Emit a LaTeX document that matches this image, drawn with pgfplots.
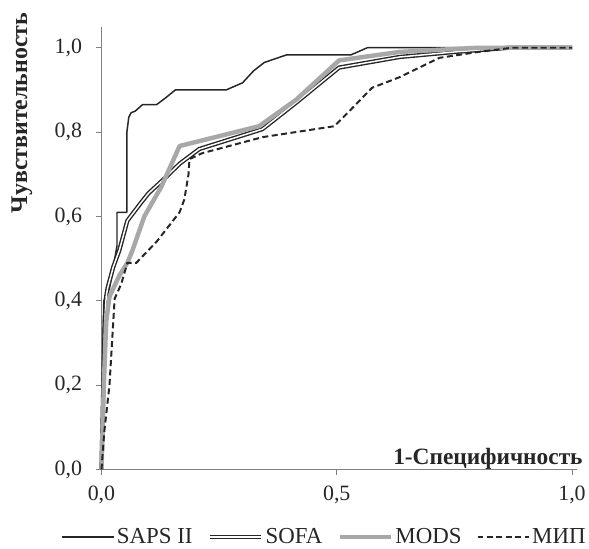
\documentclass[border=0pt]{standalone}
\usepackage{pgfplots}
\pgfplotsset{compat=1.18}
\usepackage{fontspec}
\setmainfont{Liberation Serif}

\definecolor{axisgray}{RGB}{128,128,128}
\definecolor{modsgray}{RGB}{168,168,168}

\begin{document}
\begin{tikzpicture}
\begin{axis}[
  scale only axis,
  width=477.7pt, height=445.2pt,
  xmin=0, xmax=1.01, ymin=0, ymax=1.05,
  axis x line*=bottom, axis y line*=left,
  axis line style={axisgray, line width=0.8pt},
  xtick={0,0.5,1.0}, ytick={0,0.2,0.4,0.6,0.8,1.0},
  tick align=outside, major tick length=5pt,
  tick style={axisgray, line width=0.8pt},
  /pgf/number format/.cd, fixed, fixed zerofill, precision=1, use comma,
  assume math mode=true,
  /pgfplots/.cd,
  tick label style={font=\fontsize{22}{26}\selectfont, text=black!85},
  yticklabel style={xshift=-11pt},
  xticklabel style={yshift=-8pt},
  legend columns=4,
  legend style={draw=none, fill=none, at={(-0.084,-0.152)}, anchor=west,
    font=\fontsize{23}{26}\selectfont, text=black!85,
    /tikz/every even column/.append style={column sep=13pt},
    /tikz/every odd column/.append style={column sep=0pt},
    nodes={inner xsep=2pt, inner ysep=0pt},
    inner sep=0pt},
  legend image code/.code={\draw[#1] (0pt,0pt) -- (52pt,0pt);},
  clip=false,
]
% SAPS II
\addplot[black!85, line width=1.5pt, line join=round] coordinates {
(0,0)(0.003,0.30)(0.005,0.40)(0.017,0.43)(0.025,0.48)(0.033,0.53)
(0.033,0.61)(0.054,0.61)(0.054,0.80)(0.058,0.835)(0.063,0.846)(0.072,0.85)
(0.087,0.865)(0.117,0.865)(0.135,0.88)(0.157,0.90)(0.265,0.90)(0.30,0.917)
(0.323,0.945)(0.346,0.965)(0.393,0.983)(0.53,0.983)(0.565,1.0)(1.0,1.0)};
\addlegendentry{SAPS II}
% SOFA
\addplot[black!85, line width=1.4pt, double=white, double distance=1.5pt, line join=round] coordinates {
(0,0)(0.004,0.2)(0.007,0.35)(0.010,0.41)(0.013,0.43)(0.025,0.48)(0.038,0.52)
(0.055,0.59)(0.085,0.634)(0.10,0.655)(0.134,0.69)(0.166,0.725)(0.208,0.76)
(0.342,0.807)(0.414,0.87)(0.505,0.953)(0.633,0.978)(0.75,0.99)(0.866,1.0)(1,1)};
\addlegendentry{SOFA}
% MODS
\addplot[modsgray, line width=4.5pt, line join=round] coordinates {
(0,0)(0.005,0.2)(0.01,0.35)(0.017,0.41)(0.038,0.46)(0.055,0.49)(0.066,0.52)
(0.091,0.60)(0.127,0.67)(0.166,0.767)(0.335,0.814)(0.414,0.877)(0.505,0.97)
(0.633,0.99)(0.8,1.0)(1,1)};
\addlegendentry{MODS}
% МИП
\addplot[black!85, line width=2pt, dash pattern=on 6pt off 3.5pt] coordinates {
(0,0)(0.006,0.09)(0.017,0.2)(0.028,0.405)(0.042,0.44)(0.055,0.49)(0.074,0.49)
(0.117,0.54)(0.166,0.61)(0.176,0.64)(0.185,0.70)(0.187,0.736)(0.214,0.75)
(0.342,0.788)(0.495,0.814)(0.527,0.85)(0.575,0.905)(0.633,0.93)(0.718,0.976)
(0.80,0.99)(0.873,1.0)(1,1)};
\addlegendentry{МИП}

\node[anchor=base east, font=\bfseries\fontsize{23.5}{27}\selectfont, text=black!85]
  at (axis cs:1.03,0.012) {1-Специфичность};
\node[rotate=90, anchor=center, font=\bfseries\fontsize{24}{28}\selectfont, text=black!85]
  at ([xshift=-80pt]axis cs:0,0.845) {Чувствительность};
\end{axis}
\path[use as bounding box] (-102pt,-79pt) rectangle (487pt,472pt);
\end{tikzpicture}
\end{document}
